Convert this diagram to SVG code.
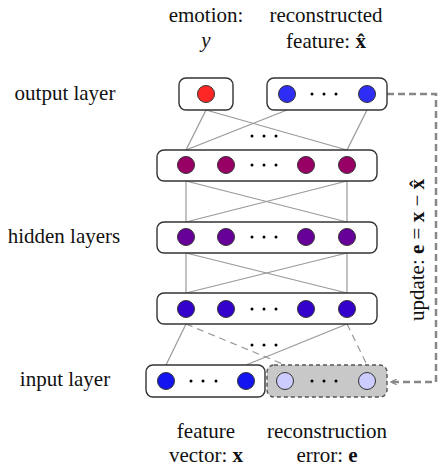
<svg xmlns="http://www.w3.org/2000/svg" width="443" height="469" viewBox="0 0 443 469">
<defs>
<style>
.t{font-family:"Liberation Serif","Times New Roman",serif;font-size:21px;fill:#111}
.b{font-weight:bold}
.i{font-style:italic}
.box{fill:#fff;stroke:#333;stroke-width:1.4}
.err{fill:#c8c8c8;stroke:#555;stroke-width:1.4;stroke-dasharray:4 3}
.n{stroke:#333;stroke-width:1}
.dot{fill:#000}
.c{stroke:#999;stroke-width:1.2;fill:none}
.cd{stroke:#999;stroke-width:1.2;fill:none;stroke-dasharray:7 5}
.fb{stroke:#888;stroke-width:2.5;fill:none;stroke-dasharray:7 4}
</style>
<marker id="ah" viewBox="0 0 10 10" refX="9" refY="5" markerWidth="7" markerHeight="7" orient="auto" markerUnits="userSpaceOnUse">
<path d="M1,1 L9,5 L1,9" fill="none" stroke="#888" stroke-width="1.8"/>
</marker>
</defs>
<rect width="443" height="469" fill="#fff"/>

<g id="labels">
<text class="t" x="65" y="100" text-anchor="middle">output layer</text>
<text class="t" x="64" y="243" text-anchor="middle">hidden layers</text>
<text class="t" x="65" y="386" text-anchor="middle">input layer</text>
<text class="t" x="206" y="22" text-anchor="middle">emotion:</text>
<text class="t i" x="206" y="47" text-anchor="middle">y</text>
<text class="t" x="326" y="22" text-anchor="middle">reconstructed</text>
<text class="t" x="326" y="48" text-anchor="middle">feature: <tspan class="b">x̂</tspan></text>
<text class="t" x="206" y="438" text-anchor="middle">feature</text>
<text class="t" x="206" y="462" text-anchor="middle">vector: <tspan class="b">x</tspan></text>
<text class="t" x="327" y="438" text-anchor="middle">reconstruction</text>
<text class="t" x="327" y="462" text-anchor="middle">error: <tspan class="b">e</tspan></text>
<text class="t" transform="translate(424,250) rotate(-90)" text-anchor="middle">update: <tspan class="b">e</tspan> = <tspan class="b">x</tspan> − <tspan class="b">x̂</tspan></text>
</g>

<g id="connectors">
<line class="c" x1="206" y1="110" x2="186" y2="150"/>
<line class="c" x1="206" y1="110" x2="347" y2="150"/>
<line class="c" x1="287" y1="110" x2="186" y2="150"/>
<line class="c" x1="367" y1="110" x2="347" y2="150"/>
<line class="c" x1="186" y1="181" x2="186" y2="222"/>
<line class="c" x1="347" y1="181" x2="347" y2="222"/>
<line class="c" x1="186" y1="181" x2="347" y2="222"/>
<line class="c" x1="347" y1="181" x2="186" y2="222"/>
<line class="c" x1="186" y1="253" x2="186" y2="293"/>
<line class="c" x1="347" y1="253" x2="347" y2="293"/>
<line class="c" x1="186" y1="253" x2="347" y2="293"/>
<line class="c" x1="347" y1="253" x2="186" y2="293"/>
<line class="c" x1="186" y1="324" x2="166" y2="365"/>
<line class="c" x1="347" y1="324" x2="246" y2="365"/>
<line class="cd" x1="186" y1="324" x2="285" y2="365"/>
<line class="cd" x1="347" y1="324" x2="367" y2="365"/>
<path class="fb" d="M387,94 H436 V382 H391" marker-end="url(#ah)"/>
<g class="dot">
<circle cx="252" cy="136" r="1.5"/><circle cx="264" cy="136" r="1.5"/><circle cx="276" cy="136" r="1.5"/>
<circle cx="252" cy="345" r="1.5"/><circle cx="264" cy="345" r="1.5"/><circle cx="276" cy="345" r="1.5"/>
</g>
</g>

<g id="emotion">
<rect class="box" x="179" y="78" width="54" height="32" rx="7"/>
<circle class="n" cx="206" cy="94" r="8.5" fill="#ff2626"/>
</g>

<g id="reconstructed">
<rect class="box" x="267" y="78" width="120" height="32" rx="7"/>
<circle class="n" cx="287" cy="94" r="8.5" fill="#2d2df5"/>
<circle class="n" cx="367" cy="94" r="8.5" fill="#2d2df5"/>
<g class="dot"><circle cx="312" cy="94" r="1.5"/><circle cx="324" cy="94" r="1.5"/><circle cx="336" cy="94" r="1.5"/></g>
</g>

<g id="hidden1">
<rect class="box" x="157" y="150" width="220" height="31" rx="7"/>
<circle class="n" cx="186" cy="165" r="8.5" fill="#990066"/>
<circle class="n" cx="226" cy="165" r="8.5" fill="#990066"/>
<circle class="n" cx="306" cy="165" r="8.5" fill="#990066"/>
<circle class="n" cx="347" cy="165" r="8.5" fill="#990066"/>
<g class="dot"><circle cx="252" cy="165" r="1.5"/><circle cx="264" cy="165" r="1.5"/><circle cx="276" cy="165" r="1.5"/></g>
</g>

<g id="hidden2">
<rect class="box" x="157" y="222" width="220" height="31" rx="7"/>
<circle class="n" cx="186" cy="237" r="8.5" fill="#660099"/>
<circle class="n" cx="226" cy="237" r="8.5" fill="#660099"/>
<circle class="n" cx="306" cy="237" r="8.5" fill="#660099"/>
<circle class="n" cx="347" cy="237" r="8.5" fill="#660099"/>
<g class="dot"><circle cx="252" cy="237" r="1.5"/><circle cx="264" cy="237" r="1.5"/><circle cx="276" cy="237" r="1.5"/></g>
</g>

<g id="hidden3">
<rect class="box" x="157" y="293" width="220" height="31" rx="7"/>
<circle class="n" cx="186" cy="309" r="8.5" fill="#3300cc"/>
<circle class="n" cx="226" cy="309" r="8.5" fill="#3300cc"/>
<circle class="n" cx="306" cy="309" r="8.5" fill="#3300cc"/>
<circle class="n" cx="347" cy="309" r="8.5" fill="#3300cc"/>
<g class="dot"><circle cx="252" cy="309" r="1.5"/><circle cx="264" cy="309" r="1.5"/><circle cx="276" cy="309" r="1.5"/></g>
</g>

<g id="input">
<rect class="box" x="146" y="365" width="119" height="32" rx="7"/>
<circle class="n" cx="166" cy="381" r="8.5" fill="#1414f0"/>
<circle class="n" cx="246" cy="381" r="8.5" fill="#1414f0"/>
<g class="dot"><circle cx="191" cy="381" r="1.5"/><circle cx="203" cy="381" r="1.5"/><circle cx="216" cy="381" r="1.5"/></g>
</g>

<g id="error">
<rect class="err" x="267" y="365" width="120" height="32" rx="7"/>
<circle class="n" cx="285" cy="381" r="8.5" fill="#ccccff"/>
<circle class="n" cx="367" cy="381" r="8.5" fill="#ccccff"/>
<g class="dot"><circle cx="312" cy="381" r="1.5"/><circle cx="324" cy="381" r="1.5"/><circle cx="336" cy="381" r="1.5"/></g>
</g>
</svg>
